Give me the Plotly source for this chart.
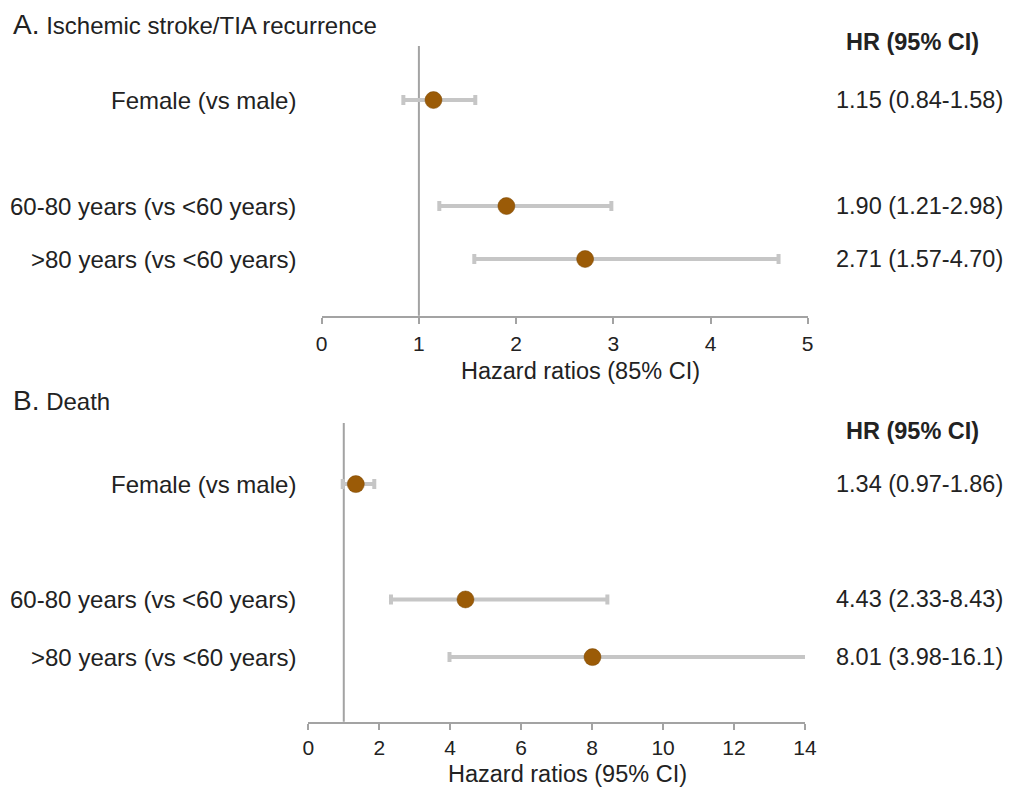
import plotly.graph_objects as go

# ---------------- data ----------------
categories = ["Female (vs male)", "60-80 years (vs <60 years)", ">80 years (vs <60 years)"]

stroke_hr = [1.15, 1.90, 2.71]
stroke_lo = [0.84, 1.21, 1.57]
stroke_hi = [1.58, 2.98, 4.70]

death_hr = [1.34, 4.43, 8.01]
death_lo = [0.97, 2.33, 3.98]
death_hi = [1.86, 8.43, 16.1]

panel_a_title = "Ischemic stroke/TIA recurrence"
panel_b_title = "Death"
axis_a_title = "Hazard ratios (85% CI)"
axis_b_title = "Hazard ratios (95% CI)"
header = "HR (95% CI)"
ticks_a = [0, 1, 2, 3, 4, 5]
ticks_b = [0, 2, 4, 6, 8, 10, 12, 14]
ref_value = 1

# ---------------- styling / layout ----------------
W, H = 1012, 787
FONT = "Liberation Sans, Arial, Helvetica, sans-serif"
TXT = "#222222"
AXC = "#a3a3a3"
ERRC = "#c6c6c6"
MK = "#9b5b07"
row_pos = [1, 3, 4]  # blank row between sex and age groups


def fmt(v):
    return f"{v:.1f}" if v >= 10 else f"{v:.2f}"


def px(xp):
    return xp / W


def py(yp):
    return 1 - yp / H


fig = go.Figure()


def add_panel(hr, lo, hi, xa, ya):
    fig.add_trace(go.Scatter(
        x=hr, y=row_pos, mode="markers",
        xaxis=xa, yaxis=ya,
        marker=dict(size=17, color=MK, line=dict(width=0.5, color="#7d4805")),
        error_x=dict(type="data", symmetric=False,
                     array=[h - m for h, m in zip(hi, hr)],
                     arrayminus=[m - l for m, l in zip(hr, lo)],
                     color=ERRC, thickness=4, width=5),
        showlegend=False, hoverinfo="x",
    ))


add_panel(stroke_hr, stroke_lo, stroke_hi, "x", "y")
add_panel(death_hr, death_lo, death_hi, "x2", "y2")

axis_common = dict(showgrid=False, zeroline=False, showline=True, linecolor=AXC, linewidth=2,
                   ticks="outside", ticklen=6, tickwidth=2, tickcolor=AXC, automargin=False,
                   tickfont=dict(family=FONT, size=21, color=TXT), fixedrange=True)

fig.update_layout(
    template="none",
    autosize=False,
    width=W, height=H, margin=dict(l=0, r=0, t=0, b=0, pad=0),
    paper_bgcolor="white", plot_bgcolor="white",
    font=dict(family=FONT, color=TXT),
    xaxis=dict(domain=[px(321.7), px(807.7)], range=[0, 5], tickvals=ticks_a,
               anchor="y", ticklabelstandoff=2, **axis_common),
    yaxis=dict(domain=[py(315.7), py(46)], range=[5.07, -0.02], visible=False,
               anchor="x", fixedrange=True, automargin=False),
    xaxis2=dict(domain=[px(308.3), px(805)], range=[0, 14], tickvals=ticks_b,
                anchor="y2", ticklabelstandoff=0, **axis_common),
    yaxis2=dict(domain=[py(721.7), py(423)], range=[5.12, -0.06], visible=False,
                anchor="x2", fixedrange=True, automargin=False),
)

# reference lines at HR = 1
for xr, yr in [("x", "y domain"), ("x2", "y2 domain")]:
    fig.add_shape(type="line", xref=xr, yref=yr, x0=ref_value, x1=ref_value, y0=0, y1=1,
                  line=dict(color=AXC, width=2), layer="below")

ann = []
# panel titles
ann.append(dict(text=f"<span style='font-size:28px'>A.</span> {panel_a_title}",
                x=px(11), y=py(24), xanchor="left", yanchor="middle", size=24))
ann.append(dict(text=f"<span style='font-size:28px'>B.</span> {panel_b_title}",
                x=px(11), y=py(401), xanchor="left", yanchor="middle", size=24))
# headers
ann.append(dict(text=f"<b>{header}</b>", x=px(912), y=py(42), xanchor="center", yanchor="middle", size=23.5))
ann.append(dict(text=f"<b>{header}</b>", x=px(912), y=py(431), xanchor="center", yanchor="middle", size=23.5))
# axis titles
ann.append(dict(text=axis_a_title, x=px(580), y=py(371), xanchor="center", yanchor="middle", size=23.5))
ann.append(dict(text=axis_b_title, x=px(567), y=py(773.5), xanchor="center", yanchor="middle", size=23.5))

for yref, hr, lo, hi in [("y", stroke_hr, stroke_lo, stroke_hi), ("y2", death_hr, death_lo, death_hi)]:
    for cat, p, h, l, u in zip(categories, row_pos, hr, lo, hi):
        ann.append(dict(text=cat, x=px(298), y=p, yref=yref, xanchor="right", yanchor="middle", size=24))
        ann.append(dict(text=f"{fmt(h)} ({fmt(l)}-{fmt(u)})", x=px(1005), y=p, yref=yref,
                        xanchor="right", yanchor="middle", size=23.5))

for a in ann:
    size = a.pop("size")
    a.setdefault("yref", "paper")
    a["xref"] = "paper"
    a["showarrow"] = False
    a["font"] = dict(family=FONT, size=size, color=TXT)
    fig.add_annotation(**a)

fig.write_html("out.html", config={"displayModeBar": False},
               post_script="document.body.style.margin='0px';document.body.style.padding='0px';")
